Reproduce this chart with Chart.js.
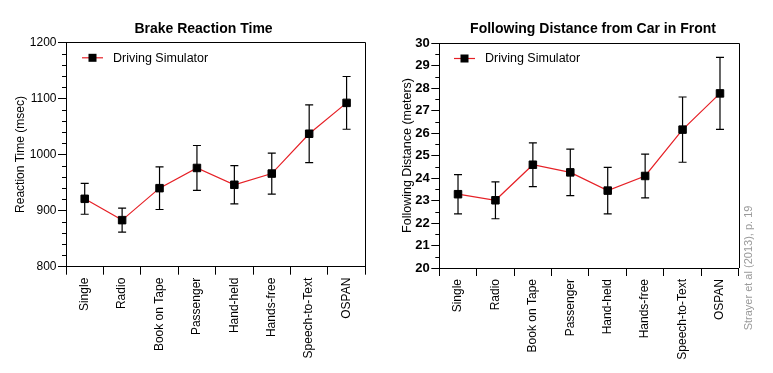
<!DOCTYPE html>
<html><head><meta charset="utf-8">
<script src="https://cdn.jsdelivr.net/npm/chart.js@4.4.0/dist/chart.umd.min.js"></script>
<style>
html,body{margin:0;padding:0;background:#fff;}
#wrap{position:relative;width:773px;height:373px;overflow:hidden;background:#fff;}
#c1{position:absolute;left:0;top:0;}
#c2{position:absolute;left:380px;top:0;}
</style></head><body>
<div id="wrap"><canvas id="c1" width="380" height="373"></canvas><canvas id="c2" width="393" height="373"></canvas></div>
<script>
// ---- data ----
const categories = ['Single','Radio','Book on Tape','Passenger','Hand-held','Hands-free','Speech-to-Text','OSPAN'];
const seriesLabel = 'Driving Simulator';
const reactionTime = [921, 883, 940, 976, 946, 966, 1037, 1092];
const reactionErr  = [27.5, 21.5, 38, 40, 34, 36.5, 51.5, 47];
const followDist   = [23.28, 23.01, 24.59, 24.25, 23.44, 24.09, 26.15, 27.76];
const followErr    = [0.87, 0.82, 0.97, 1.03, 1.03, 0.97, 1.45, 1.6];
const reactionTickLabels = [800, 900, 1000, 1100, 1200];
const followTickLabels   = [20, 21, 22, 23, 24, 25, 26, 27, 28, 29, 30];
const sourceNote = 'Strayer et al (2013), p. 19';

const FONT = "'Liberation Sans', Arial, Helvetica, sans-serif";
const RED = 'rgb(230,32,38)';

const decorPlugin = {
  id: 'decor',
  beforeDatasetsDraw(chart, args, o) {
    const ctx = chart.ctx, ca = chart.chartArea;
    const xs = chart.scales.x, ys = chart.scales.y;
    ctx.save();
    // frame top & right
    ctx.strokeStyle = '#000'; ctx.lineWidth = 1;
    ctx.beginPath();
    ctx.moveTo(Math.round(ca.left) , Math.round(ca.top) + 0.5);
    ctx.lineTo(Math.round(ca.right) + 0.5, Math.round(ca.top) + 0.5);
    ctx.lineTo(Math.round(ca.right) + 0.5, Math.round(ca.bottom));
    ctx.stroke();
    // minor ticks
    ys.ticks.forEach(t => {
      if (o.major.indexOf(t.value) === -1) {
        const py = Math.round(ys.getPixelForValue(t.value)) + 0.5;
        ctx.beginPath();
        ctx.moveTo(ys.right - 4, py); ctx.lineTo(ys.right, py); ctx.stroke();
      }
    });
    // error bars
    const vals = chart.data.datasets[0].data;
    ctx.lineWidth = 1.2;
    vals.forEach((v, i) => {
      const e = o.err[i];
      const px = xs.getPixelForValue(i);
      const y1 = ys.getPixelForValue(v + e), y2 = ys.getPixelForValue(v - e);
      ctx.beginPath();
      ctx.moveTo(px, y1); ctx.lineTo(px, y2);
      ctx.moveTo(px - 4, y1); ctx.lineTo(px + 4, y1);
      ctx.moveTo(px - 4, y2); ctx.lineTo(px + 4, y2);
      ctx.stroke();
    });
    ctx.restore();
  },
  afterDraw(chart, args, o) {
    const ctx = chart.ctx, ca = chart.chartArea;
    const ds = chart.data.datasets[0];
    ctx.save();
    // title
    ctx.fillStyle = '#000';
    ctx.font = 'bold 14px ' + FONT;
    ctx.textAlign = 'center'; ctx.textBaseline = 'middle';
    ctx.fillText(o.title, o.titleX, 29.5);
    // legend
    const lx = ca.left + o.legDx, ly = ca.top + 15.5;
    ctx.strokeStyle = RED; ctx.lineWidth = 1.2;
    ctx.beginPath(); ctx.moveTo(lx, ly); ctx.lineTo(lx + 21, ly); ctx.stroke();
    ctx.fillStyle = '#000';
    ctx.fillRect(lx + 10.5 - 4, ly - 4, 8, 8);
    ctx.font = '12.5px ' + FONT;
    ctx.textAlign = 'left';
    ctx.fillText(ds.label, lx + 31, ly + 0.5);
    // source note
    if (o.note) {
      ctx.translate(o.noteX, 268);
      ctx.rotate(-Math.PI / 2);
      ctx.fillStyle = '#999';
      ctx.font = '11px ' + FONT;
      ctx.textAlign = 'center';
      ctx.fillText(o.note, 0, 0);
    }
    ctx.restore();
  }
};

function makeChart(id, values, err, min, max, step, majors, yTitle, cfg) {
  return new Chart(document.getElementById(id), {
    type: 'line',
    data: {
      labels: categories,
      datasets: [{
        label: seriesLabel,
        data: values,
        borderColor: RED,
        borderWidth: 1.2,
        pointStyle: 'rect',
        pointRadius: 5.3,
        pointBackgroundColor: '#000',
        pointBorderColor: '#000',
        pointBorderWidth: 1,
        tension: 0,
        fill: false
      }]
    },
    options: {
      responsive: false,
      devicePixelRatio: 1,
      animation: false,
      events: [],
      layout: { padding: { left: cfg.padL, right: cfg.padR, top: cfg.padT, bottom: 0 } },
      plugins: {
        legend: { display: false },
        title: { display: false },
        tooltip: { enabled: false },
        decor: { err: err, major: majors, title: cfg.title, titleX: cfg.titleX, legDx: cfg.legDx, note: cfg.note, noteX: cfg.noteX }
      },
      scales: {
        x: {
          type: 'category',
          offset: true,
          afterFit: s => { s.height = cfg.xH; },
          grid: { offset: true, drawOnChartArea: false, drawTicks: true, tickLength: 8, color: '#000', lineWidth: 1 },
          border: { display: true, color: '#000', width: 1 },
          ticks: { autoSkip: false, maxRotation: 90, minRotation: 90, padding: 3, color: '#000', font: { family: FONT, size: 12 } }
        },
        y: {
          min: min, max: max,
          afterFit: s => { s.width = cfg.yW; },
          grid: { drawOnChartArea: false, drawTicks: true, tickLength: 8,
                  tickColor: c => (majors.indexOf(c.tick.value) !== -1 ? '#000' : 'rgba(0,0,0,0)'), color: '#000', lineWidth: 1 },
          border: { display: true, color: '#000', width: 1 },
          ticks: { stepSize: step, autoSkip: false, padding: 1.5, color: '#000',
                   font: { family: FONT, size: cfg.yFont, weight: cfg.yWeight },
                   callback: v => (majors.indexOf(v) !== -1 ? String(v) : '') },
          title: { display: true, text: yTitle, color: '#000', padding: 0, font: { family: FONT, size: cfg.yTitleFont } }
        }
      }
    },
    plugins: [decorPlugin]
  });
}

makeChart('c1', reactionTime, reactionErr, 800, 1200, 20, reactionTickLabels, 'Reaction Time (msec)',
  { padL: 13, padR: 14.7, padT: 42.3, xH: 106.3, yW: 53, yFont: 12, yWeight: 'normal', yTitleFont: 12,
    title: 'Brake Reaction Time', titleX: 203.5, legDx: 16, note: null });
makeChart('c2', followDist, followErr, 20, 30, 0.5, followTickLabels, 'Following Distance (meters)',
  { padL: 20.5, padR: 34.3, padT: 43, xH: 105, yW: 38.8, yFont: 13, yWeight: 'bold', yTitleFont: 12.5,
    title: 'Following Distance from Car in Front', titleX: 213, legDx: 14.7, note: sourceNote, noteX: 369 });
</script>
</body></html>
